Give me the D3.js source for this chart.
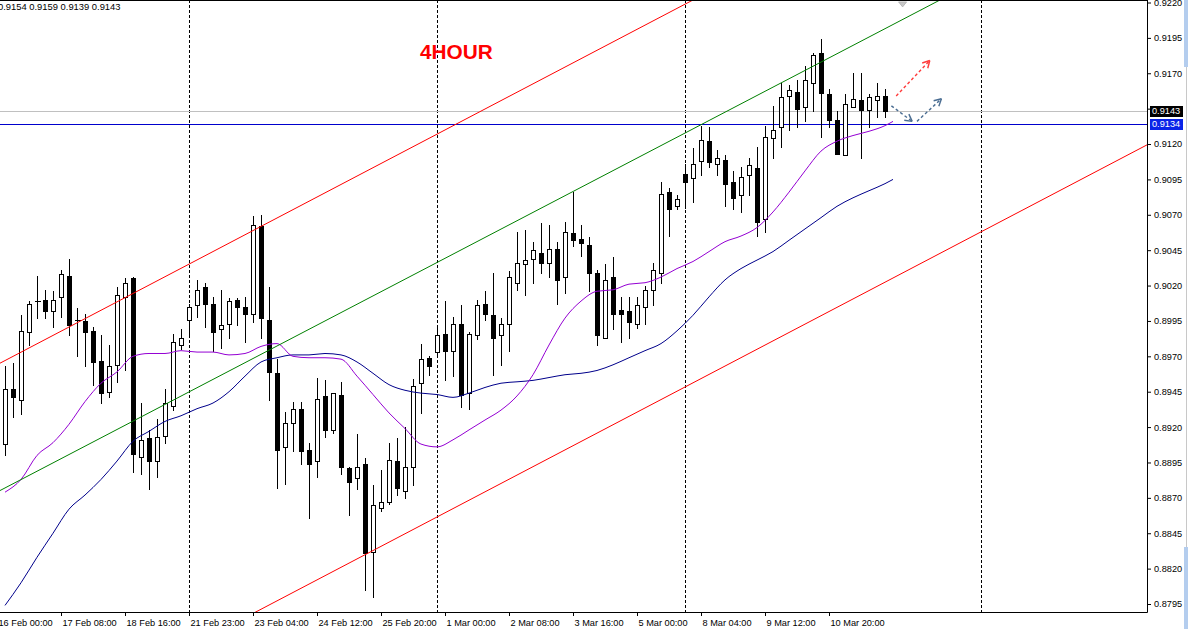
<!DOCTYPE html>
<html><head><meta charset="utf-8">
<script src="https://cdn.jsdelivr.net/npm/d3@7"></script>
<style>body{margin:0;background:#fff;overflow:hidden} svg{display:block}</style>
</head><body>
<svg id="c" width="1188" height="629"></svg>
<script>
// ---- DATA (H4 bars, index 0..110) ----
const opens  = [0.8908,0.8947,0.8939,0.8987,0.9009,0.9010,0.9002,0.9012,0.9027,0.8996,0.8995,0.8988,0.8967,0.8945,0.8964,0.9012,0.9025,0.8899,0.8912,0.8896,0.8914,0.8935,0.8978,0.8996,0.9006,0.9019,0.9007,0.8989,0.8993,0.9010,0.9005,0.9000,0.9062,0.8996,0.8958,0.8906,0.8923,0.8933,0.8904,0.8896,0.8942,0.8918,0.8943,0.8891,0.8884,0.8894,0.8832,0.8863,0.8867,0.8896,0.8875,0.8892,0.8951,0.8969,0.8973,0.8986,0.8974,0.8993,0.8944,0.8985,0.9007,0.8999,0.8985,0.8993,0.9022,0.9035,0.9039,0.9043,0.9036,0.9046,0.9026,0.9057,0.9053,0.9049,0.9029,0.8983,0.9026,0.9003,0.9002,0.8993,0.9005,0.9017,0.9029,0.9086,0.9076,0.9099,0.9096,0.9108,0.9122,0.9106,0.9109,0.9093,0.9084,0.9098,0.9103,0.9067,0.9124,0.9132,0.9154,0.9157,0.9146,0.9163,0.9184,0.9155,0.9137,0.9112,0.9146,0.9151,0.9144,0.9151,0.9154];
const highs  = [0.8963,0.8965,0.8999,0.9009,0.9027,0.9017,0.9016,0.9031,0.9039,0.9004,0.9000,0.8991,0.8985,0.8978,0.9019,0.9025,0.9026,0.8937,0.8918,0.8926,0.8947,0.8986,0.8989,0.9007,0.9024,0.9022,0.9012,0.9017,0.9011,0.9011,0.9012,0.9069,0.9070,0.9019,0.8968,0.8931,0.8938,0.8938,0.8909,0.8955,0.8953,0.8944,0.8952,0.8892,0.8915,0.8898,0.8879,0.8890,0.8909,0.8912,0.8920,0.8954,0.8979,0.8970,0.8992,0.9009,0.8998,0.9006,0.8987,0.9010,0.9016,0.9029,0.8997,0.9030,0.9058,0.9059,0.9051,0.9064,0.9063,0.9051,0.9065,0.9086,0.9063,0.9054,0.9031,0.9035,0.9040,0.9012,0.9012,0.9012,0.9020,0.9036,0.9093,0.9089,0.9084,0.9106,0.9117,0.9133,0.9132,0.9116,0.9112,0.9101,0.9104,0.9110,0.9118,0.9133,0.9147,0.9163,0.9162,0.9165,0.9175,0.9184,0.9194,0.9159,0.9143,0.9155,0.9170,0.9170,0.9155,0.9163,0.9159];
const lows   = [0.8900,0.8927,0.8929,0.8978,0.8997,0.8997,0.8991,0.8998,0.8985,0.8970,0.8963,0.8950,0.8937,0.8941,0.8952,0.8960,0.8888,0.8887,0.8876,0.8885,0.8909,0.8932,0.8975,0.8986,0.8998,0.8991,0.8974,0.8976,0.8983,0.8992,0.8980,0.8994,0.8983,0.8939,0.8877,0.8880,0.8903,0.8894,0.8856,0.8885,0.8913,0.8916,0.8887,0.8858,0.8876,0.8805,0.8800,0.8861,0.8866,0.8872,0.8870,0.8879,0.8930,0.8957,0.8970,0.8953,0.8956,0.8934,0.8933,0.8982,0.8996,0.8957,0.8964,0.8974,0.9017,0.9013,0.9022,0.9029,0.9026,0.9007,0.9015,0.9048,0.9041,0.9016,0.8978,0.8983,0.8989,0.8980,0.8983,0.8990,0.8993,0.9006,0.9022,0.9055,0.9074,0.9075,0.9079,0.9098,0.9104,0.9098,0.9076,0.9074,0.9072,0.9084,0.9055,0.9058,0.9110,0.9118,0.9130,0.9132,0.9136,0.9143,0.9125,0.9132,0.9113,0.9112,0.9146,0.9110,0.9132,0.9139,0.9139];
const closes = [0.8947,0.8941,0.8988,0.9007,0.9009,0.9002,0.9010,0.9028,0.8992,0.8996,0.8987,0.8966,0.8944,0.8963,0.9013,0.9022,0.8901,0.8911,0.8896,0.8913,0.8937,0.8980,0.8983,0.9005,0.9017,0.9007,0.8987,0.8992,0.9009,0.9005,0.9000,0.9063,0.8997,0.8959,0.8904,0.8923,0.8933,0.8903,0.8894,0.8940,0.8918,0.8944,0.8892,0.8881,0.8892,0.8831,0.8865,0.8867,0.8897,0.8877,0.8892,0.8949,0.8968,0.8963,0.8985,0.8974,0.8993,0.8943,0.8986,0.9006,0.9000,0.8983,0.8993,0.9026,0.9036,0.9038,0.9045,0.9036,0.9046,0.9024,0.9058,0.9052,0.9050,0.9029,0.8985,0.9024,0.9000,0.9000,0.8994,0.9006,0.9017,0.9031,0.9085,0.9074,0.9081,0.9093,0.9106,0.9123,0.9107,0.9110,0.9092,0.9082,0.9097,0.9105,0.9065,0.9125,0.9130,0.9153,0.9158,0.9145,0.9165,0.9183,0.9156,0.9137,0.9113,0.9148,0.9152,0.9144,0.9153,0.9154,0.9143];

const maBars = [0,2,4,6,8,10,12,14,16,18,20,22,24,26,28,30,32,34,36,38,40,42,44,46,48,50,52,54,56,58,60,62,64,66,68,70,72,74,76,78,80,82,84,86,88,90,92,94,96,98,100,102,104,106,108,110,111];
const maFast = [0.8874,0.8883,0.8900,0.8909,0.8922,0.8938,0.8951,0.8959,0.8970,0.8972,0.8972,0.8974,0.8973,0.8973,0.8971,0.8972,0.8977,0.8979,0.8970,0.8969,0.8969,0.8968,0.8956,0.8943,0.8930,0.8919,0.8908,0.8906,0.8911,0.8918,0.8925,0.8932,0.8942,0.8957,0.8978,0.8997,0.9009,0.9016,0.9017,0.9021,0.9022,0.9026,0.9032,0.9037,0.9044,0.9051,0.9055,0.9061,0.9072,0.9086,0.9101,0.9115,0.9122,0.9126,0.9129,0.9133,0.9136];
const maSlow = [0.8794,0.8810,0.8828,0.8845,0.8862,0.8872,0.8883,0.8896,0.8910,0.8917,0.8924,0.8928,0.8933,0.8937,0.8945,0.8956,0.8966,0.8969,0.8971,0.8971,0.8972,0.8971,0.8966,0.8958,0.8950,0.8946,0.8944,0.8943,0.8941,0.8944,0.8948,0.8951,0.8952,0.8953,0.8955,0.8957,0.8958,0.8960,0.8964,0.8969,0.8974,0.8979,0.8988,0.8999,0.9012,0.9024,0.9032,0.9038,0.9044,0.9052,0.9060,0.9068,0.9076,0.9082,0.9087,0.9092,0.9095];

// channel trendlines: [bar1, price1, bar2, price2]
const upperRed = [0, 0.8967, 80, 0.9204];
const midGreen = [0, 0.8877, 100, 0.9172];
const lowerRed = [40, 0.8815, 120, 0.9052];

// hand-drawn arrows: [bar1, price1, bar2, price2]
const redArrow   = [111.4, 0.9154, 115.6, 0.9179];
const blueArrow1 = [110.8, 0.9147, 113.4, 0.9136];
const blueArrow2 = [114.0, 0.9136, 117.05, 0.9152];

const separatorBars = [23, 54, 85, 122];
const priceTicks = [0.8795,0.8820,0.8845,0.8870,0.8895,0.8920,0.8945,0.8970,0.8995,0.9020,0.9045,0.9070,0.9095,0.9120,0.9145,0.9170,0.9195,0.9220];
const timeTickBars = [-1,7,15,23,31,39,47,55,63,71,79,87,95,103];
const timeLabels = ["16 Feb 00:00","17 Feb 08:00","18 Feb 16:00","21 Feb 23:00","23 Feb 04:00","24 Feb 12:00","25 Feb 20:00","1 Mar 00:00","2 Mar 08:00","3 Mar 16:00","5 Mar 00:00","8 Mar 04:00","9 Mar 12:00","10 Mar 20:00"];
const bidPrice = 0.9143;
const hLinePrice = 0.9134;
const topMarker = [112.2, 0.9219];
const title = "4HOUR";

// ---- DRAW ----
const W = 1188, H = 629, plotR = 1147, plotB = 612;
const FONT = "'Liberation Sans', Arial, sans-serif";
const svg = d3.select('#c');
const x = d3.scaleLinear().domain([0, 110]).range([5, 885]);
const y = d3.scaleLinear().domain([0.8795, 0.9220]).range([604, 2.5]);
const X = k => Math.round(x(k)) + 0.5;
const Y = p => Math.round(y(p));

svg.append('rect').attr('width', W).attr('height', H).attr('fill', '#fff');
svg.append('defs').append('clipPath').attr('id', 'plot')
  .append('rect').attr('x', 0).attr('y', 0).attr('width', plotR).attr('height', plotB);
const g = svg.append('g').attr('clip-path', 'url(#plot)');

// period separators
g.selectAll('line.sep').data(separatorBars).join('line').attr('class', 'sep')
  .attr('x1', d => X(d)).attr('x2', d => X(d)).attr('y1', 0).attr('y2', plotB)
  .attr('stroke', '#000').attr('stroke-dasharray', '3,2').attr('shape-rendering', 'crispEdges');

// bid line & horizontal line
g.append('line').attr('x1', 0).attr('x2', plotR).attr('y1', Y(bidPrice) + 0.5).attr('y2', Y(bidPrice) + 0.5)
  .attr('stroke', '#c0c0c0').attr('shape-rendering', 'crispEdges');
g.append('line').attr('x1', 0).attr('x2', plotR).attr('y1', Y(hLinePrice) + 0.5).attr('y2', Y(hLinePrice) + 0.5)
  .attr('stroke', '#0000cd').attr('shape-rendering', 'crispEdges');

// candles
const bars = opens.map((o, i) => ({ i, o, h: highs[i], l: lows[i], c: closes[i] }));
const cg = g.append('g').attr('shape-rendering', 'crispEdges');
cg.selectAll('line.wick').data(bars).join('line').attr('class', 'wick')
  .attr('x1', d => X(d.i)).attr('x2', d => X(d.i))
  .attr('y1', d => Y(d.h)).attr('y2', d => Y(d.l) + 1).attr('stroke', '#000');
cg.selectAll('rect.body').data(bars.filter(d => Y(d.o) !== Y(d.c))).join('rect').attr('class', 'body')
  .attr('x', d => X(d.i) - 2).attr('width', 4)
  .attr('y', d => Y(Math.max(d.o, d.c)) + 0.5)
  .attr('height', d => Y(Math.min(d.o, d.c)) - Y(Math.max(d.o, d.c)))
  .attr('fill', d => d.c >= d.o ? '#fff' : '#000').attr('stroke', '#000');
cg.selectAll('line.doji').data(bars.filter(d => Y(d.o) === Y(d.c))).join('line').attr('class', 'doji')
  .attr('x1', d => X(d.i) - 2.5).attr('x2', d => X(d.i) + 3)
  .attr('y1', d => Y(d.o) + 0.5).attr('y2', d => Y(d.o) + 0.5).attr('stroke', '#000');

// moving averages
const maLine = d3.line().x(d => x(d.b)).y(d => y(d.v)).curve(d3.curveMonotoneX);
g.append('path').datum(maBars.map((b, i) => ({ b, v: maSlow[i] })))
  .attr('d', maLine).attr('fill', 'none').attr('stroke', '#00008b').attr('stroke-width', 1);
g.append('path').datum(maBars.map((b, i) => ({ b, v: maFast[i] })))
  .attr('d', maLine).attr('fill', 'none').attr('stroke', '#9400d3').attr('stroke-width', 1);

// trendlines (extended both ways, clipped)
function trend(t, color) {
  const [b1, p1, b2, p2] = t;
  const s = (p2 - p1) / (b2 - b1);
  const ba = -20, bb = 160;
  g.append('line').attr('x1', x(ba)).attr('y1', y(p1 + s * (ba - b1)))
    .attr('x2', x(bb)).attr('y2', y(p1 + s * (bb - b1)))
    .attr('stroke', color).attr('stroke-width', 1);
}
trend(upperRed, '#ff0000');
trend(midGreen, '#008000');
trend(lowerRed, '#ff0000');

// arrows
function arrow(a, color) {
  const [b1, p1, b2, p2] = a;
  const x1 = x(b1), y1 = y(p1), x2 = x(b2), y2 = y(p2);
  g.append('line').attr('x1', x1).attr('y1', y1).attr('x2', x2).attr('y2', y2)
    .attr('stroke', color).attr('stroke-width', 1.4).attr('stroke-dasharray', '3,2.5');
  const ang = Math.atan2(y2 - y1, x2 - x1), L = 8;
  [0.5, -0.5].forEach(da => {
    g.append('line').attr('x1', x2).attr('y1', y2)
      .attr('x2', x2 - L * Math.cos(ang + da)).attr('y2', y2 - L * Math.sin(ang + da))
      .attr('stroke', color).attr('stroke-width', 1.4);
  });
}
arrow(redArrow, '#ff3b3b');
arrow(blueArrow1, '#4a6d92');
arrow(blueArrow2, '#4a6d92');

// small gray marker at top
{
  const mx = x(topMarker[0]), my = y(topMarker[1]);
  g.append('path').attr('d', `M${mx - 4},${my - 2}L${mx + 4},${my - 2}L${mx},${my + 3}Z`)
    .attr('fill', '#c8c8c8').attr('stroke', '#b0b0b0').attr('stroke-width', 0.8);
}

// title
svg.append('text').attr('x', 420).attr('y', 58.5).text(title)
  .attr('font-family', FONT).attr('font-weight', 'bold').attr('font-size', 20.8).attr('fill', '#ff0000');

// header OHLC text
const last = bars[bars.length - 1];
svg.append('text').attr('x', -2).attr('y', 10)
  .text([last.o, last.h, last.l, last.c].map(d3.format('.4f')).join(' '))
  .attr('font-family', FONT).attr('font-size', 9.4).attr('fill', '#000');

// axes
const yAxis = d3.axisRight(y).tickValues(priceTicks).tickFormat(d3.format('.4f')).tickSize(4).tickPadding(3);
const ya = svg.append('g').attr('transform', `translate(${plotR},0)`).call(yAxis);
ya.select('.domain').remove();
ya.selectAll('text').attr('font-family', FONT).attr('font-size', 9.2).attr('fill', '#000');
ya.selectAll('line').attr('stroke', '#000');

const xAxis = d3.axisBottom(x).tickValues(timeTickBars).tickFormat((d, i) => timeLabels[i]).tickSize(4).tickPadding(3);
const xa = svg.append('g').attr('transform', `translate(0,${plotB})`).call(xAxis);
xa.select('.domain').remove();
xa.selectAll('text').attr('font-family', FONT).attr('font-size', 9.2).attr('fill', '#000')
  .attr('text-anchor', 'start').attr('dx', 1);
xa.selectAll('line').attr('stroke', '#000');

// frame
svg.append('line').attr('x1', 0).attr('x2', plotR + 0.5).attr('y1', plotB + 0.5).attr('y2', plotB + 0.5).attr('stroke', '#000');
svg.append('line').attr('x1', plotR + 0.5).attr('x2', plotR + 0.5).attr('y1', 0).attr('y2', plotB + 0.5).attr('stroke', '#000');
svg.append('line').attr('x1', 0).attr('x2', plotR + 0.5).attr('y1', 0.5).attr('y2', 0.5).attr('stroke', '#000');

// price boxes
function priceBox(p, bg) {
  const cy = Y(p);
  svg.append('rect').attr('x', 1150).attr('y', cy - 5).attr('width', 33).attr('height', 11).attr('fill', bg);
  svg.append('text').attr('x', 1152).attr('y', cy).attr('dy', '0.35em').text(d3.format('.4f')(p))
    .attr('font-family', FONT).attr('font-size', 9.2).attr('fill', '#fff');
}
priceBox(bidPrice, '#000');
priceBox(hLinePrice, '#0a24e8');

// window edge strip
svg.append('rect').attr('x', 1184).attr('y', 0).attr('width', 4).attr('height', 67).attr('fill', '#b4cdee');
svg.append('line').attr('x1', 1186.5).attr('x2', 1186.5).attr('y1', 67).attr('y2', 547).attr('stroke', '#c8c8c8');
svg.append('rect').attr('x', 1184).attr('y', 547).attr('width', 4).attr('height', 82).attr('fill', '#b4cdee');
</script>
</body></html>
